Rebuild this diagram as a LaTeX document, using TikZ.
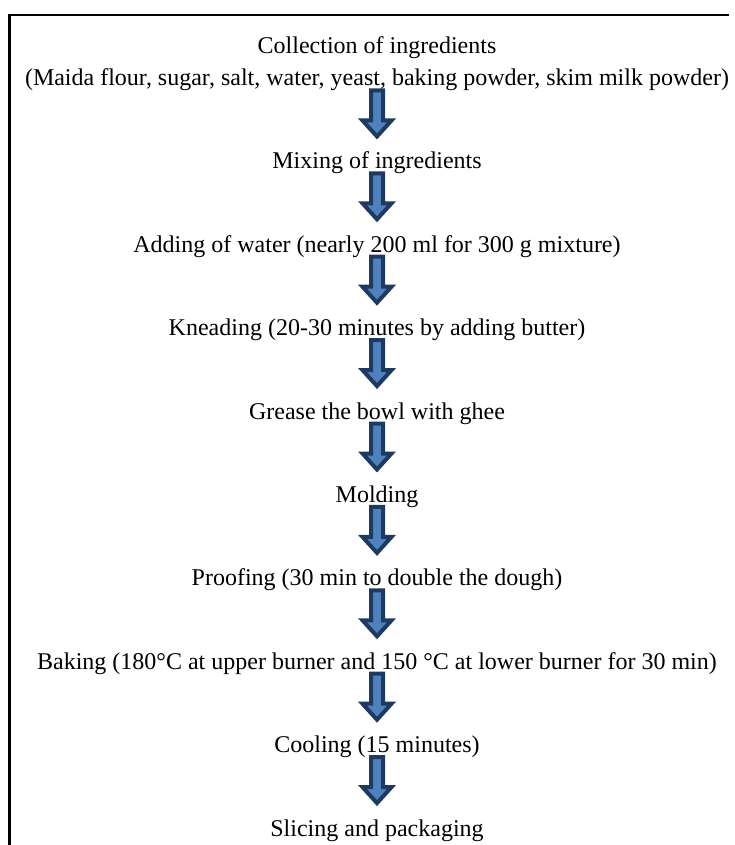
\documentclass[tikz,border=0pt]{standalone}
\usepackage{fontspec}
\setmainfont{Liberation Serif}
\usepackage{tikz}
\definecolor{arrowedge}{HTML}{1F3A60}
\definecolor{arrowfill}{HTML}{4F81BD}
\tikzset{
  step text/.style={font=\fontsize{24}{28}\selectfont,inner sep=0pt,anchor=base},
  arrow body/.style={draw=arrowedge,fill=arrowfill,line width=4pt,line join=miter},
  pics/flowarrow/.style={code={
    \filldraw[arrow body] (-6,2) -- (-6,32) -- (-14.5,32) -- (0,48) -- (14.5,32) -- (6,32) -- (6,2) -- cycle;
  }}
}

\begin{document}
\begin{tikzpicture}[x=1pt,y=-1pt]
  \useasboundingbox (0,0) rectangle (734,845);
  %frame
  \draw[line width=2.3pt] (9.5,845) -- (9.5,15) -- (729,15);
  %steps
  \node[step text] (collect) at (377,54) {Collection of ingredients};
  \node[step text] (collectlist) at (377,86) {(Maida flour, sugar, salt, water, yeast, baking powder, skim milk powder)};
  \node[step text] (mix) at (377,168.8) {Mixing of ingredients};
  \node[step text] (water) at (377,252.2) {Adding of water (nearly 200 ml for 300 g mixture)};
  \node[step text] (knead) at (377,335.6) {Kneading (20-30 minutes by adding butter)};
  \node[step text] (grease) at (377,419) {Grease the bowl with ghee};
  \node[step text] (mold) at (377,502.4) {Molding};
  \node[step text] (proof) at (377,585.8) {Proofing (30 min to double the dough)};
  \node[step text] (bake) at (377,669.2) {Baking (180°C at upper burner and 150 °C at lower burner for 30 min)};
  \node[step text] (cool) at (377,752.6) {Cooling (15 minutes)};
  \node[step text] (slice) at (377,836) {Slicing and packaging};
  %arrows
  \foreach \n in {collectlist,mix,water,knead,grease,mold,proof,bake,cool}
    \pic at ([yshift=-2.5pt]\n.base) {flowarrow};
\end{tikzpicture}
\end{document}
